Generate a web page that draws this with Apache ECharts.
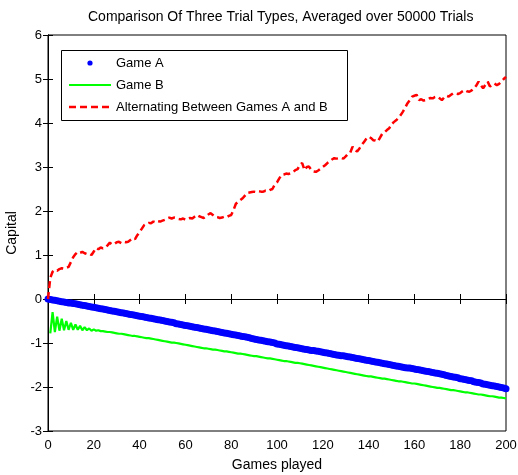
<!DOCTYPE html>
<html>
<head>
<meta charset="utf-8">
<script src="https://cdn.jsdelivr.net/npm/echarts@6.0.0/dist/echarts.min.js"></script>
<style>
  html, body { margin: 0; padding: 0; background: #fff; }
  #chart { width: 518px; height: 475px; }
</style>
</head>
<body>
<div id="chart"></div>
<script>
// Mean capital after each game, averaged over 50000 trials.
// Game A: one value per game, games 0..200
const gameAValues = [
  0.00, -0.01, -0.02, -0.03, -0.04, -0.05, -0.06, -0.07, -0.08, -0.09,
  -0.09, -0.10, -0.11, -0.12, -0.13, -0.14, -0.15, -0.16, -0.17, -0.18,
  -0.19, -0.20, -0.21, -0.22, -0.23, -0.24, -0.25, -0.26, -0.27, -0.28,
  -0.29, -0.30, -0.31, -0.32, -0.33, -0.34, -0.35, -0.36, -0.37, -0.38,
  -0.39, -0.40, -0.41, -0.42, -0.43, -0.44, -0.45, -0.46, -0.47, -0.48,
  -0.49, -0.50, -0.51, -0.52, -0.53, -0.54, -0.56, -0.57, -0.58, -0.59,
  -0.60, -0.61, -0.62, -0.63, -0.64, -0.65, -0.66, -0.67, -0.68, -0.69,
  -0.70, -0.71, -0.72, -0.73, -0.74, -0.75, -0.76, -0.77, -0.78, -0.79,
  -0.80, -0.81, -0.82, -0.83, -0.84, -0.85, -0.86, -0.87, -0.88, -0.90,
  -0.91, -0.92, -0.93, -0.94, -0.95, -0.96, -0.97, -0.98, -0.99, -1.00,
  -1.02, -1.03, -1.04, -1.05, -1.06, -1.07, -1.08, -1.09, -1.10, -1.11,
  -1.12, -1.13, -1.14, -1.15, -1.16, -1.17, -1.17, -1.18, -1.19, -1.20,
  -1.21, -1.22, -1.23, -1.24, -1.25, -1.26, -1.27, -1.28, -1.29, -1.29,
  -1.30, -1.31, -1.32, -1.33, -1.34, -1.35, -1.36, -1.37, -1.38, -1.39,
  -1.40, -1.41, -1.42, -1.43, -1.44, -1.45, -1.46, -1.47, -1.48, -1.49,
  -1.50, -1.51, -1.52, -1.53, -1.54, -1.55, -1.56, -1.57, -1.57, -1.58,
  -1.59, -1.60, -1.61, -1.62, -1.63, -1.64, -1.65, -1.66, -1.67, -1.68,
  -1.69, -1.70, -1.71, -1.72, -1.74, -1.75, -1.76, -1.77, -1.78, -1.79,
  -1.81, -1.82, -1.83, -1.84, -1.85, -1.86, -1.88, -1.89, -1.90, -1.91,
  -1.93, -1.94, -1.95, -1.96, -1.97, -1.98, -1.99, -2.00, -2.01, -2.02,
  -2.04
];

// Game B: one value per game, games 1..200
const gameBValues = [
  -0.78, -0.30, -0.75, -0.40, -0.72, -0.45, -0.71, -0.50, -0.70, -0.54,
  -0.70, -0.58, -0.70, -0.61, -0.71, -0.64, -0.71, -0.67, -0.72, -0.69,
  -0.72, -0.71, -0.73, -0.73, -0.74, -0.75, -0.75, -0.76, -0.77, -0.78,
  -0.79, -0.79, -0.80, -0.81, -0.82, -0.83, -0.84, -0.84, -0.85, -0.86,
  -0.87, -0.88, -0.89, -0.89, -0.90, -0.91, -0.92, -0.93, -0.94, -0.95,
  -0.96, -0.97, -0.98, -0.99, -0.99, -1.00, -1.01, -1.02, -1.03, -1.04,
  -1.05, -1.06, -1.07, -1.08, -1.09, -1.10, -1.11, -1.12, -1.12, -1.13,
  -1.14, -1.15, -1.15, -1.16, -1.17, -1.18, -1.19, -1.19, -1.20, -1.21,
  -1.22, -1.23, -1.24, -1.24, -1.25, -1.26, -1.27, -1.28, -1.29, -1.30,
  -1.30, -1.31, -1.32, -1.33, -1.34, -1.35, -1.35, -1.36, -1.37, -1.38,
  -1.39, -1.40, -1.41, -1.41, -1.42, -1.43, -1.44, -1.45, -1.45, -1.46,
  -1.47, -1.48, -1.49, -1.50, -1.51, -1.52, -1.53, -1.54, -1.55, -1.56,
  -1.57, -1.58, -1.59, -1.60, -1.61, -1.62, -1.63, -1.64, -1.65, -1.66,
  -1.67, -1.68, -1.69, -1.70, -1.71, -1.72, -1.73, -1.74, -1.75, -1.76,
  -1.76, -1.77, -1.78, -1.79, -1.80, -1.81, -1.81, -1.82, -1.83, -1.84,
  -1.85, -1.86, -1.87, -1.87, -1.88, -1.89, -1.90, -1.91, -1.92, -1.92,
  -1.93, -1.94, -1.95, -1.96, -1.97, -1.98, -1.99, -2.00, -2.01, -2.02,
  -2.02, -2.03, -2.04, -2.05, -2.06, -2.07, -2.07, -2.08, -2.09, -2.10,
  -2.11, -2.12, -2.12, -2.13, -2.14, -2.15, -2.16, -2.17, -2.17, -2.18,
  -2.19, -2.20, -2.21, -2.21, -2.22, -2.23, -2.24, -2.24, -2.25, -2.26
];

// Alternating between A and B: one value per game, games 0..200
const alternatingValues = [
  0.00, 0.48, 0.62, 0.66, 0.64, 0.68, 0.70, 0.69, 0.71, 0.73,
  0.84, 0.95, 1.02, 1.07, 1.05, 1.07, 1.04, 1.02, 1.03, 1.00,
  1.08, 1.16, 1.13, 1.17, 1.15, 1.17, 1.22, 1.28, 1.24, 1.25,
  1.29, 1.30, 1.27, 1.30, 1.29, 1.30, 1.34, 1.38, 1.36, 1.45,
  1.52, 1.60, 1.68, 1.71, 1.73, 1.72, 1.76, 1.74, 1.77, 1.76,
  1.78, 1.80, 1.83, 1.85, 1.83, 1.85, 1.84, 1.82, 1.81, 1.83,
  1.80, 1.82, 1.84, 1.83, 1.87, 1.91, 1.88, 1.86, 1.84, 1.88,
  1.92, 1.95, 1.91, 1.87, 1.86, 1.84, 1.85, 1.87, 1.86, 1.89,
  1.91, 2.02, 2.16, 2.21, 2.25, 2.29, 2.35, 2.41, 2.42, 2.43,
  2.44, 2.43, 2.45, 2.44, 2.44, 2.46, 2.45, 2.48, 2.50, 2.60,
  2.65, 2.74, 2.82, 2.83, 2.85, 2.84, 2.86, 2.88, 2.93, 2.95,
  3.05, 3.09, 2.93, 3.00, 3.01, 2.93, 2.90, 2.89, 2.92, 2.96,
  3.00, 3.04, 3.09, 3.13, 3.17, 3.20, 3.19, 3.20, 3.21, 3.19,
  3.24, 3.30, 3.33, 3.46, 3.39, 3.35, 3.42, 3.50, 3.57, 3.64,
  3.69, 3.66, 3.61, 3.60, 3.58, 3.67, 3.76, 3.79, 3.84, 3.88,
  3.97, 4.02, 4.06, 4.11, 4.18, 4.26, 4.35, 4.45, 4.52, 4.60,
  4.62, 4.64, 4.52, 4.54, 4.51, 4.52, 4.55, 4.57, 4.56, 4.59,
  4.60, 4.56, 4.52, 4.58, 4.62, 4.60, 4.64, 4.68, 4.67, 4.66,
  4.68, 4.72, 4.75, 4.72, 4.71, 4.74, 4.79, 4.85, 4.94, 4.86,
  4.79, 4.87, 4.94, 4.83, 4.86, 4.90, 4.86, 4.89, 4.94, 5.00,
  5.05
];

const seriesNames = ['Game A', 'Game B', 'Alternating Between Games A and B'];
const seriesColors = ['#0000ff', '#00ff00', '#ff0000'];
const titleText = 'Comparison Of Three Trial Types, Averaged over 50000 Trials';
const xAxisTitle = 'Games played';
const yAxisTitle = 'Capital';
const xTicks = { min: 0, max: 200, step: 20 };
const yTicks = { min: -3, max: 6, step: 1 };

const FONT = "'Liberation Sans', Arial, Helvetica, sans-serif";
const RED_DASH = [7, 4];

const pointsFrom = (values, firstGame) => values.map((v, i) => [firstGame + i, v]);

const chart = echarts.init(document.getElementById('chart'), null, { renderer: 'canvas' });

const baseAxis = {
  axisLine: { show: true, lineStyle: { color: '#000', width: 1 } },
  axisTick: { show: true, inside: true, length: 5, lineStyle: { color: '#000' } },
  splitLine: { show: false },
  axisLabel: { color: '#000', fontFamily: FONT, fontSize: 13 }
};

// Boxed key in the upper-left corner of the plot area
const keyBox = { x: 61.5, y: 50.5, w: 286, h: 70 };
const keyRows = [63, 85, 107];
const keySampleX = [69, 111];
const keyTextX = 116;

const keyGraphics = [
  {
    type: 'rect', z: 20,
    shape: { x: keyBox.x, y: keyBox.y, width: keyBox.w, height: keyBox.h },
    style: { fill: '#fff', stroke: '#000', lineWidth: 1 }
  },
  {
    type: 'circle', z: 21,
    shape: { cx: (keySampleX[0] + keySampleX[1]) / 2, cy: keyRows[0], r: 2.6 },
    style: { fill: seriesColors[0] }
  },
  {
    type: 'line', z: 21,
    shape: { x1: keySampleX[0], y1: keyRows[1], x2: keySampleX[1], y2: keyRows[1] },
    style: { stroke: seriesColors[1], lineWidth: 2 }
  },
  {
    type: 'line', z: 21,
    shape: { x1: keySampleX[0], y1: keyRows[2], x2: keySampleX[1], y2: keyRows[2] },
    style: { stroke: seriesColors[2], lineWidth: 2.5, lineDash: RED_DASH }
  }
].concat(seriesNames.map((name, i) => ({
  type: 'text', z: 21,
  x: keyTextX, y: keyRows[i],
  style: {
    text: name, fill: '#000', font: '13px ' + FONT,
    textAlign: 'left', textVerticalAlign: 'middle'
  }
})));

chart.setOption({
  animation: false,
  backgroundColor: '#fff',
  title: {
    text: titleText,
    left: 88,
    top: 10,
    padding: 0,
    textStyle: { fontFamily: FONT, fontSize: 14, fontWeight: 'normal', color: '#000' }
  },
  grid: {
    left: 48, right: 12, top: 35, bottom: 44,
    show: true, borderColor: '#000', borderWidth: 1,
    containLabel: false, outerBoundsMode: 'none'
  },
  xAxis: [
    Object.assign({}, baseAxis, {
      type: 'value', position: 'bottom',
      min: xTicks.min, max: xTicks.max, interval: xTicks.step,
      axisLabel: Object.assign({}, baseAxis.axisLabel, { margin: 8 }),
      name: xAxisTitle, nameLocation: 'middle', nameGap: 27,
      nameTextStyle: { fontFamily: FONT, fontSize: 14, color: '#000' }
    }),
    Object.assign({}, baseAxis, {
      type: 'value', position: 'top',
      min: xTicks.min, max: xTicks.max, interval: xTicks.step,
      axisLabel: { show: false }
    })
  ],
  yAxis: [
    Object.assign({}, baseAxis, {
      type: 'value', position: 'left',
      min: yTicks.min, max: yTicks.max, interval: yTicks.step,
      axisLabel: Object.assign({}, baseAxis.axisLabel, { margin: 6 }),
      name: yAxisTitle, nameLocation: 'middle', nameGap: 22,
      nameTextStyle: { fontFamily: FONT, fontSize: 14, color: '#000' }
    }),
    Object.assign({}, baseAxis, {
      type: 'value', position: 'right',
      min: yTicks.min, max: yTicks.max, interval: yTicks.step,
      axisLabel: { show: false }
    })
  ],
  graphic: keyGraphics,
  series: [
    {
      name: seriesNames[0],
      type: 'scatter',
      data: pointsFrom(gameAValues, 0),
      symbol: 'circle',
      symbolSize: 7,
      itemStyle: { color: seriesColors[0], opacity: 1 },
      clip: false,
      z: 2
    },
    {
      name: seriesNames[1],
      type: 'line',
      data: pointsFrom(gameBValues, 1),
      symbol: 'none',
      lineStyle: { color: seriesColors[1], width: 2.2 },
      z: 3
    },
    {
      name: seriesNames[2],
      type: 'line',
      data: pointsFrom(alternatingValues, 0),
      symbol: 'none',
      lineStyle: { color: seriesColors[2], width: 2.5, type: RED_DASH },
      z: 4
    }
  ]
});
</script>
</body>
</html>
